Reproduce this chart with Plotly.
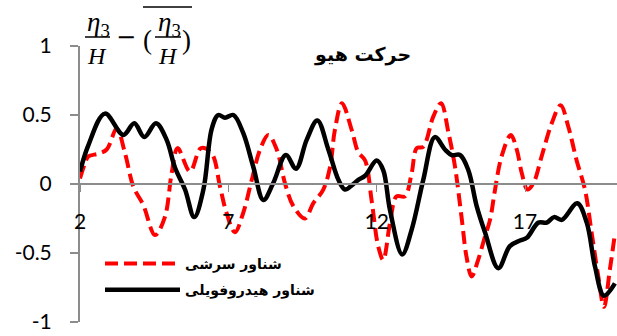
import plotly.graph_objects as go

# ---- data ----
x_red = [2.00, 2.17, 2.28, 2.62, 2.90, 3.24, 3.52, 3.80, 4.13, 4.53, 4.86, 5.09, 5.29, 5.71,
         6.08, 6.44, 6.72, 6.94, 7.22, 7.50, 7.79, 8.07, 8.35, 8.63, 8.91, 9.19, 9.58, 9.86,
         10.20, 10.43, 10.59, 10.83, 11.16, 11.38, 11.61, 11.83, 12.05, 12.22, 12.45, 12.67,
         12.95, 13.18, 13.35, 13.57, 13.91, 14.17, 14.42, 14.64, 14.86, 15.03, 15.20, 15.42,
         15.65, 15.82, 15.99, 16.21, 16.52, 16.72, 16.89, 17.08, 17.28, 17.56, 17.90, 18.20,
         18.46, 18.74, 19.02, 19.25, 19.47, 19.66, 19.86, 20.03]
y_red = [0.04, 0.15, 0.20, 0.22, 0.25, 0.40, 0.22, -0.02, -0.15, -0.37, -0.24, 0.08, 0.26, 0.09,
         0.26, 0.22, -0.02, -0.21, -0.35, -0.21, 0.03, 0.25, 0.355, 0.25, 0.005, -0.16, -0.25, -0.14,
         -0.04, 0.125, 0.39, 0.585, 0.39, 0.23, 0.17, -0.12, -0.45, -0.55, -0.28, -0.09,
         -0.09, 0.08, 0.26, 0.27, 0.49, 0.585, 0.37, 0.125, -0.24, -0.53, -0.67, -0.55,
         -0.38, -0.26, -0.04, 0.20, 0.355, 0.25, 0.08, -0.04, 0.005, 0.20, 0.44, 0.57,
         0.415, 0.17, -0.04, -0.36, -0.67, -0.89, -0.62, -0.36]

x_black = [2.00, 2.28, 2.84, 3.46, 3.83, 4.17, 4.56, 4.92, 5.20, 5.54, 5.85, 6.16, 6.44, 6.66,
           6.89, 7.17, 7.50, 7.84, 8.18, 8.51, 8.94, 9.28, 9.64, 10.00, 10.37, 10.71, 10.93,
           11.16, 11.38, 11.61, 12.00, 12.22, 12.45, 12.86, 13.18, 13.57, 13.96, 14.30, 14.53,
           14.81, 15.09, 15.37, 15.65, 16.10, 16.49, 16.83, 17.06, 17.45, 17.73, 17.98, 18.24,
           18.76, 19.08, 19.36, 19.66, 20.03]
y_black = [0.09, 0.28, 0.51, 0.355, 0.44, 0.34, 0.44, 0.32, 0.12, -0.04, -0.24, -0.04, 0.40, 0.50,
           0.48, 0.50, 0.37, 0.125, -0.116, 0.005, 0.21, 0.11, 0.32, 0.46, 0.25, 0.03, -0.04,
           -0.01, 0.03, 0.06, 0.17, 0.10, -0.19, -0.51, -0.33, 0.03, 0.34, 0.25, 0.21,
           0.21, 0.10, -0.16, -0.35, -0.61, -0.45, -0.41, -0.39, -0.28, -0.28, -0.24, -0.26,
           -0.14, -0.28, -0.60, -0.81, -0.72]

name_red = "شناور سرشی"
name_black = "شناور هیدروفویلی"
title_text = "حرکت هیو"
x_ticks = [2, 7, 12, 17]
y_ticks = [-1, -0.5, 0, 0.5, 1]
y_ticktext = ["-1", "-0.5", "0", "0.5", "1"]

# ---- layout geometry ----
W, H = 617, 336
ML, MR, MT, MB = 80, 0, 46, 14
PW, PH = W - ML - MR, H - MT - MB


def px(xp):
    return (xp - ML) / PW


def py(yp):
    return (H - MB - yp) / PH


fig = go.Figure()
fig.add_trace(go.Scatter(x=x_red, y=y_red, mode="lines", name=name_red, legendgroup="a",
                         line=dict(color="#FF0000", width=4, dash="13px,6px",
                                   shape="spline", smoothing=1.0)))
fig.add_trace(go.Scatter(x=x_black, y=y_black, mode="lines", name=name_black, legendgroup="b",
                         line=dict(color="#000000", width=4.5,
                                   shape="spline", smoothing=1.0)))

axis_gray = "#8C8C8C"
fig.update_layout(
    width=W, height=H,
    margin=dict(l=ML, r=MR, t=MT, b=MB),
    paper_bgcolor="white", plot_bgcolor="white",
    font=dict(family="Lato, Liberation Sans, sans-serif", size=21, color="black"),
    xaxis=dict(range=[2, 20.1], anchor="free", position=0.5,
               showline=True, linecolor=axis_gray, linewidth=2,
               ticks="outside", ticklen=7, tickcolor=axis_gray, tickwidth=1,
               tickvals=x_ticks, showgrid=False, zeroline=False,
               ticklabelstandoff=12),
    yaxis=dict(range=[-1, 1], showline=True, linecolor=axis_gray, linewidth=2,
               ticks="outside", ticklen=8, tickcolor=axis_gray, tickwidth=2,
               tickvals=y_ticks, ticktext=y_ticktext, showgrid=False, zeroline=False,
               ticklabelstandoff=14),
    showlegend=True,
    legend=dict(x=px(100), y=py(248), xanchor="left", yanchor="top",
                bgcolor="rgba(0,0,0,0)", itemwidth=75, traceorder="grouped",
                font=dict(family="DejaVu Sans", size=14, color="black", weight="bold"),
                tracegroupgap=5),
)

ann = []
# title
ann.append(dict(text=title_text, x=px(362), y=py(54), xref="paper", yref="paper",
                showarrow=False, xanchor="center", yanchor="middle",
                font=dict(family="DejaVu Sans", size=19, color="black", weight="bold")))

# y-axis formula label: eta3/H - (overline(eta3/H))
ffont = dict(family="Liberation Serif, DejaVu Serif, serif", size=24, color="black")
efont = dict(family="Liberation Serif, DejaVu Serif, serif", size=27, color="black")
for cx in (97, 168):
    ann.append(dict(text="<i>η</i><sub>3</sub>", x=px(cx + 1), y=py(24), xref="paper", yref="paper",
                    showarrow=False, xanchor="center", yanchor="middle", font=efont))
    ann.append(dict(text="<i>H</i>", x=px(cx), y=py(56), xref="paper", yref="paper",
                    showarrow=False, xanchor="center", yanchor="middle", font=ffont))
ann.append(dict(text="−", x=px(126), y=py(37), xref="paper", yref="paper",
                showarrow=False, xanchor="center", yanchor="middle",
                font=dict(family="DejaVu Sans", size=24, color="black")))
ann.append(dict(text="(", x=px(147), y=py(40), xref="paper", yref="paper",
                showarrow=False, xanchor="center", yanchor="middle", font=efont))
ann.append(dict(text=")", x=px(186), y=py(40), xref="paper", yref="paper",
                showarrow=False, xanchor="center", yanchor="middle", font=efont))
fig.update_layout(annotations=ann)

shapes = []
for x0, x1 in ((85, 110), (155, 181)):
    shapes.append(dict(type="line", xref="paper", yref="paper",
                       x0=px(x0), x1=px(x1), y0=py(37), y1=py(37),
                       line=dict(color="black", width=1.5)))
shapes.append(dict(type="line", xref="paper", yref="paper",
                   x0=px(143), x1=px(192), y0=py(7), y1=py(7),
                   line=dict(color="black", width=1.5)))
fig.update_layout(shapes=shapes)

fig.write_html("out.html", config={"displayModeBar": False},
               post_script="document.body.style.margin='0';document.body.style.overflow='hidden';")
